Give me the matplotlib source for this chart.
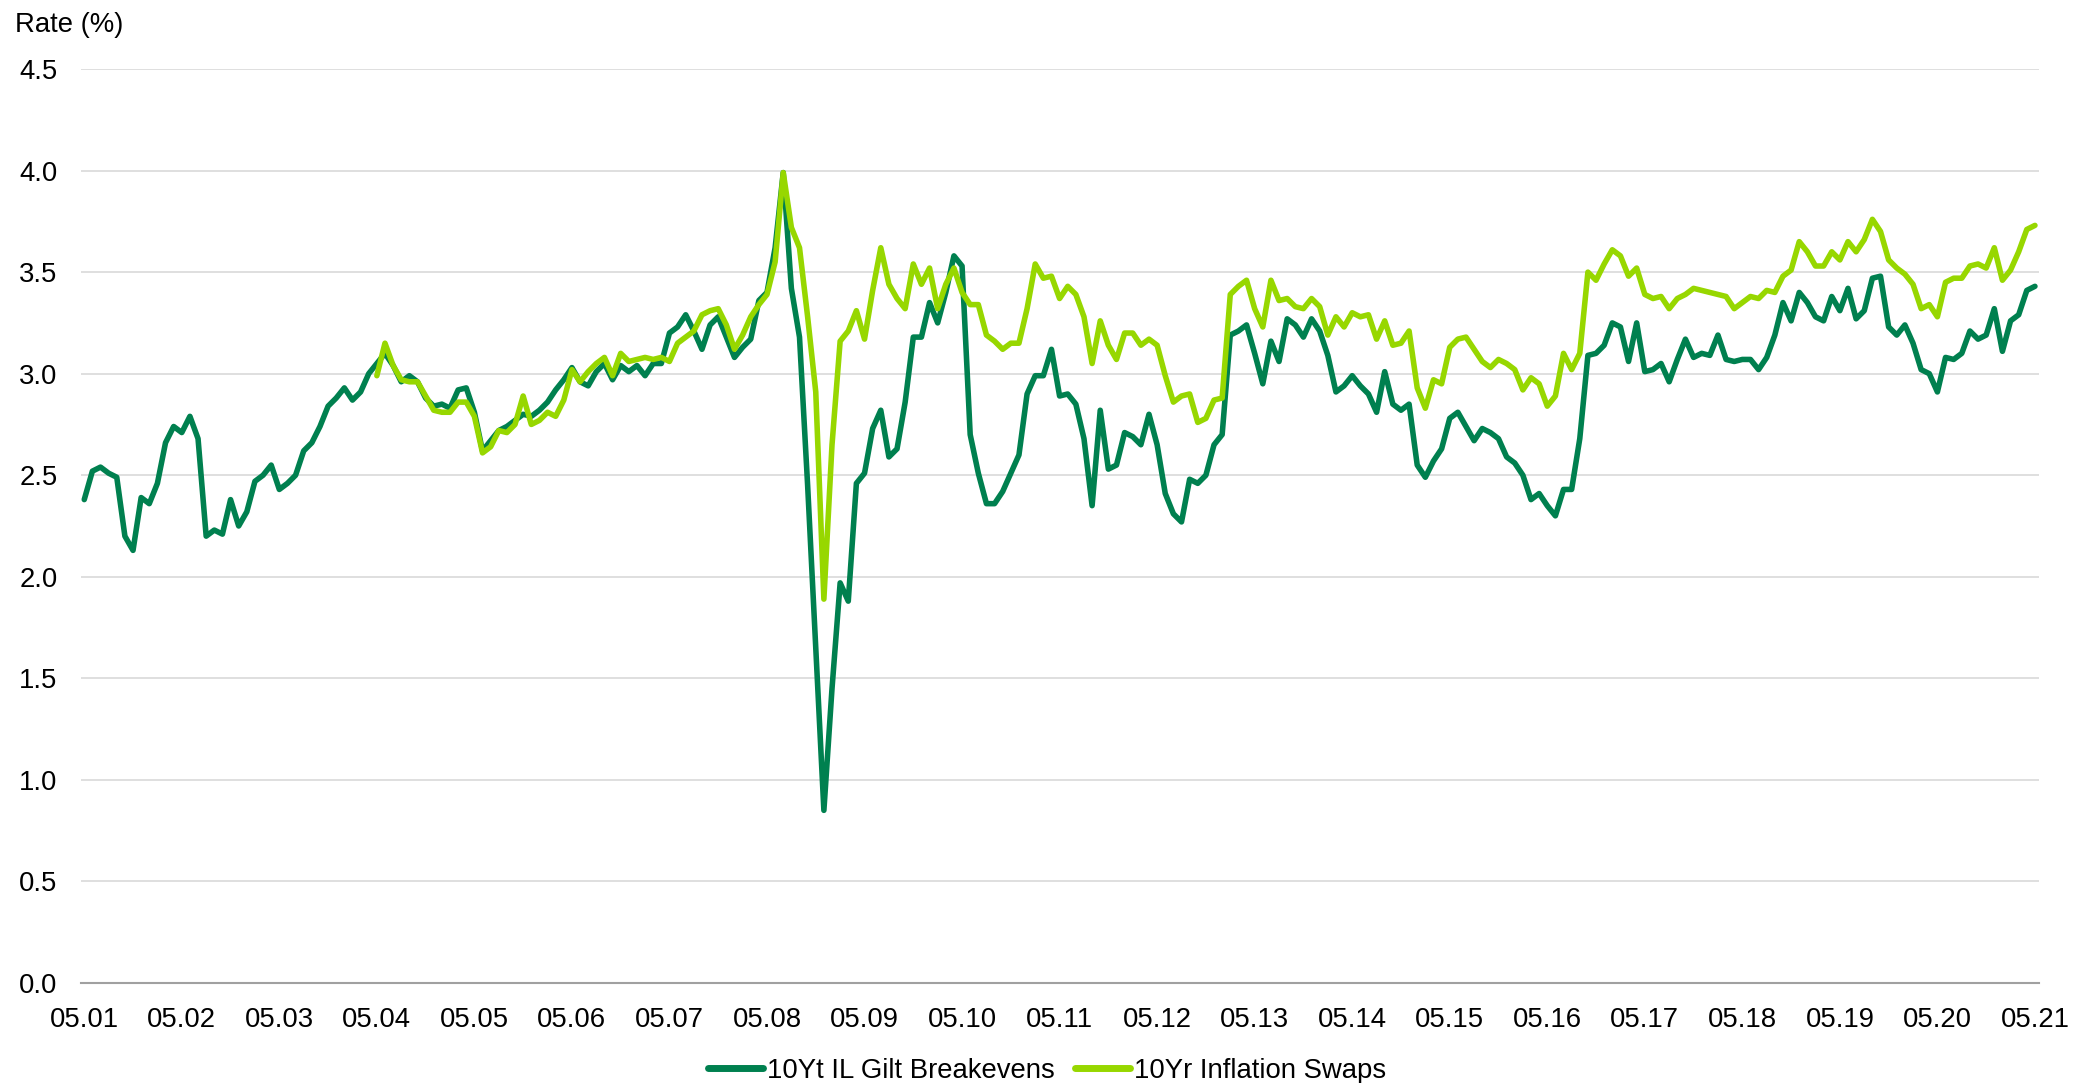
import numpy as np
import matplotlib
matplotlib.use("Agg")
import matplotlib.pyplot as plt

plt.rcParams['font.family'] = ['Liberation Sans', 'DejaVu Sans']

# Monthly observations, May 2001 .. May 2021
breakevens = [
    2.38, 2.52, 2.54, 2.51, 2.49, 2.20, 2.13, 2.39, 2.36, 2.46,
    2.66, 2.74, 2.71, 2.79, 2.68, 2.20, 2.23, 2.21, 2.38, 2.25,
    2.32, 2.47, 2.50, 2.55, 2.43, 2.46, 2.50, 2.62, 2.66, 2.74,
    2.84, 2.88, 2.93, 2.87, 2.91, 3.00, 3.05, 3.10, 3.04, 2.96,
    2.99, 2.96, 2.88, 2.84, 2.85, 2.83, 2.92, 2.93, 2.81, 2.62,
    2.67, 2.72, 2.74, 2.77, 2.80, 2.79, 2.82, 2.86, 2.92, 2.97,
    3.03, 2.96, 2.94, 3.01, 3.05, 2.97, 3.04, 3.01, 3.04, 2.99,
    3.05, 3.05, 3.20, 3.23, 3.29, 3.21, 3.12, 3.24, 3.28, 3.18,
    3.08, 3.13, 3.17, 3.36, 3.40, 3.62, 3.99, 3.42, 3.18, 2.45,
    1.65, 0.85, 1.45, 1.97, 1.88, 2.46, 2.51, 2.73, 2.82, 2.59,
    2.63, 2.86, 3.18, 3.18, 3.35, 3.25, 3.40, 3.58, 3.53, 2.70,
    2.51, 2.36, 2.36, 2.42, 2.51, 2.60, 2.90, 2.99, 2.99, 3.12,
    2.89, 2.90, 2.85, 2.68, 2.35, 2.82, 2.53, 2.55, 2.71, 2.69,
    2.65, 2.80, 2.65, 2.41, 2.31, 2.27, 2.48, 2.46, 2.50, 2.65,
    2.70, 3.19, 3.21, 3.24, 3.10, 2.95, 3.16, 3.06, 3.27, 3.24,
    3.18, 3.27, 3.21, 3.09, 2.91, 2.94, 2.99, 2.94, 2.90, 2.81,
    3.01, 2.85, 2.82, 2.85, 2.55, 2.49, 2.57, 2.63, 2.78, 2.81,
    2.74, 2.67, 2.73, 2.71, 2.68, 2.59, 2.56, 2.50, 2.38, 2.41,
    2.35, 2.30, 2.43, 2.43, 2.68, 3.09, 3.10, 3.14, 3.25, 3.23,
    3.06, 3.25, 3.01, 3.02, 3.05, 2.96, 3.07, 3.17, 3.08, 3.10,
    3.09, 3.19, 3.07, 3.06, 3.07, 3.07, 3.02, 3.08, 3.19, 3.35,
    3.26, 3.40, 3.35, 3.28, 3.26, 3.38, 3.31, 3.42, 3.27, 3.31,
    3.47, 3.48, 3.23, 3.19, 3.24, 3.15, 3.02, 3.00, 2.91, 3.08,
    3.07, 3.10, 3.21, 3.17, 3.19, 3.32, 3.11, 3.26, 3.29, 3.41,
    3.43,
]

# Swaps series begins May 2004 (36 months after the start)
swaps_start = 36
swaps = [
    2.99, 3.15, 3.04, 2.97, 2.96, 2.96, 2.89, 2.82, 2.81, 2.81,
    2.86, 2.86, 2.79, 2.61, 2.64, 2.72, 2.71, 2.75, 2.89, 2.75,
    2.77, 2.81, 2.79, 2.87, 3.02, 2.96, 3.01, 3.05, 3.08, 2.99,
    3.10, 3.06, 3.07, 3.08, 3.07, 3.08, 3.06, 3.15, 3.18, 3.21,
    3.29, 3.31, 3.32, 3.24, 3.12, 3.19, 3.28, 3.34, 3.39, 3.55,
    3.99, 3.72, 3.62, 3.28, 2.91, 1.89, 2.65, 3.16, 3.21, 3.31,
    3.17, 3.41, 3.62, 3.44, 3.37, 3.32, 3.54, 3.44, 3.52, 3.32,
    3.44, 3.52, 3.40, 3.34, 3.34, 3.19, 3.16, 3.12, 3.15, 3.15,
    3.32, 3.54, 3.47, 3.48, 3.37, 3.43, 3.39, 3.28, 3.05, 3.26,
    3.14, 3.07, 3.20, 3.20, 3.14, 3.17, 3.14, 2.99, 2.86, 2.89,
    2.90, 2.76, 2.78, 2.87, 2.88, 3.39, 3.43, 3.46, 3.32, 3.23,
    3.46, 3.36, 3.37, 3.33, 3.32, 3.37, 3.33, 3.19, 3.28, 3.23,
    3.30, 3.28, 3.29, 3.17, 3.26, 3.14, 3.15, 3.21, 2.93, 2.83,
    2.97, 2.95, 3.13, 3.17, 3.18, 3.12, 3.06, 3.03, 3.07, 3.05,
    3.02, 2.92, 2.98, 2.95, 2.84, 2.89, 3.10, 3.02, 3.10, 3.50,
    3.46, 3.54, 3.61, 3.58, 3.48, 3.52, 3.39, 3.37, 3.38, 3.32,
    3.37, 3.39, 3.42, 3.41, 3.40, 3.39, 3.38, 3.32, 3.35, 3.38,
    3.37, 3.41, 3.40, 3.48, 3.51, 3.65, 3.60, 3.53, 3.53, 3.60,
    3.56, 3.65, 3.60, 3.66, 3.76, 3.70, 3.56, 3.52, 3.49, 3.44,
    3.32, 3.34, 3.28, 3.45, 3.47, 3.47, 3.53, 3.54, 3.52, 3.62,
    3.46, 3.51, 3.60, 3.71, 3.73,
]

tick_labels = ["05.%02d" % y for y in range(1, 22)]
y_ticks = [0.0, 0.5, 1.0, 1.5, 2.0, 2.5, 3.0, 3.5, 4.0, 4.5]
series_names = ["10Yt IL Gilt Breakevens", "10Yr Inflation Swaps"]

DARK = "#00804F"
LIGHT = "#97D700"
FS = 19.8

fig = plt.figure(figsize=(20.94, 10.83), dpi=100)
ax = fig.add_axes([81 / 2094, 1 - 983 / 1083, (2039 - 81) / 2094, (983 - 69) / 1083])

x_be = np.arange(len(breakevens))
x_sw = np.arange(len(swaps)) + swaps_start

ax.plot(x_be, breakevens, color=DARK, lw=4.0, solid_joinstyle='round',
        solid_capstyle='round', label=series_names[0], zorder=3)
ax.plot(x_sw, swaps, color=LIGHT, lw=4.0, solid_joinstyle='round',
        solid_capstyle='round', label=series_names[1], zorder=4)

ax.set_xlim(-0.4, 240.5)
ax.set_ylim(0, 4.5)
ax.set_yticks(y_ticks)
ax.set_yticklabels(["%.1f" % v for v in y_ticks])
ax.set_xticks(np.arange(0, 241, 12))
ax.set_xticklabels(tick_labels)
ax.tick_params(axis='both', length=0, labelsize=FS, colors='black')
ax.tick_params(axis='y', pad=17)
ax.tick_params(axis='x', pad=17)

ax.grid(axis='y', color='#d9d9d9', lw=1.2, zorder=0)
ax.grid(axis='x', visible=False)
for s in ['top', 'right', 'left']:
    ax.spines[s].set_visible(False)
ax.spines['bottom'].set_color('#a0a0a0')
ax.spines['bottom'].set_linewidth(1.5)
ax.set_axisbelow(True)

fig.text(15 / 2094, 1 - 32 / 1083, "Rate (%)", fontsize=FS, ha='left', va='baseline')

leg = fig.legend(loc='center', bbox_to_anchor=(0.5, 1 - 1071 / 1083), ncol=2,
                 frameon=False, fontsize=FS, handlelength=2.0, handletextpad=0.15,
                 columnspacing=0.75, borderpad=0, borderaxespad=0)
for l in leg.get_lines():
    l.set_linewidth(5.0)

fig.savefig("out.png", dpi=100)
